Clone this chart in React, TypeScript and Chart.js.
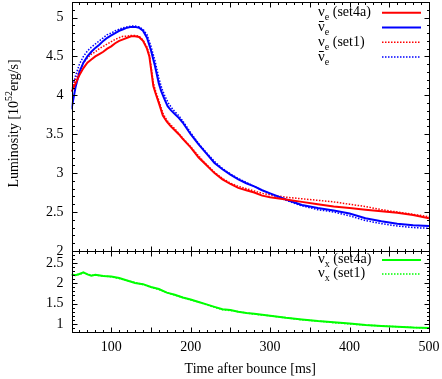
import React, { useEffect, useRef } from "react";
import { Chart, registerables } from "chart.js";

Chart.register(...registerables);

// ---------- data ----------
const xTickLabels = [100, 200, 300, 400, 500];
const topTicks = [2, 2.5, 3, 3.5, 4, 4.5, 5];
const bottomTicks = [1, 1.5, 2, 2.5];

const seriesNames = ["νe (set4a)", "ν\u0304e", "νe (set1)", "ν\u0304e", "νx (set4a)", "νx (set1)"];

const nueSet4aX = [50, 55, 60, 65, 70, 75, 80, 85, 90, 95, 100, 105, 110, 115, 120, 125, 130, 135, 140, 145, 148, 150, 153, 156, 160, 165, 170, 175, 180, 185, 190, 200, 210, 220, 230, 240, 250, 260, 270, 280, 290, 300, 320, 340, 360, 380, 400, 420, 440, 460, 480, 500];
const nueSet4aY = [4.05, 4.15, 4.26, 4.35, 4.42, 4.46, 4.5, 4.53, 4.56, 4.6, 4.63, 4.67, 4.7, 4.72, 4.74, 4.76, 4.76, 4.75, 4.7, 4.6, 4.5, 4.35, 4.12, 4.02, 3.9, 3.74, 3.66, 3.6, 3.55, 3.5, 3.44, 3.33, 3.2, 3.1, 3.0, 2.92, 2.86, 2.81, 2.78, 2.75, 2.71, 2.69, 2.66, 2.63, 2.6, 2.57, 2.55, 2.53, 2.51, 2.49, 2.46, 2.42];

const nuebSet4aX = [50, 55, 60, 65, 70, 75, 80, 85, 90, 95, 100, 105, 110, 115, 120, 125, 130, 135, 140, 145, 150, 155, 160, 163, 167, 171, 175, 180, 185, 190, 200, 210, 220, 230, 240, 250, 260, 270, 280, 290, 300, 320, 340, 360, 380, 400, 420, 440, 460, 480, 500];
const nuebSet4aY = [3.82, 4.1, 4.3, 4.42, 4.5, 4.56, 4.61, 4.65, 4.7, 4.74, 4.77, 4.8, 4.83, 4.85, 4.87, 4.88, 4.88, 4.87, 4.83, 4.74, 4.58, 4.38, 4.15, 4.05, 3.95, 3.86, 3.81, 3.76, 3.71, 3.65, 3.5, 3.37, 3.25, 3.13, 3.05, 2.98, 2.92, 2.87, 2.83, 2.78, 2.74, 2.66, 2.59, 2.55, 2.52, 2.48, 2.42, 2.38, 2.35, 2.33, 2.32];

const nueSet1X = [50, 55, 60, 65, 70, 75, 80, 85, 90, 95, 100, 105, 110, 115, 120, 125, 130, 135, 140, 145, 148, 150, 153, 156, 160, 165, 170, 175, 180, 185, 190, 200, 210, 220, 230, 240, 250, 260, 270, 280, 290, 300, 320, 340, 360, 380, 400, 420, 440, 460, 480, 500];
const nueSet1Y = [4.05, 4.2, 4.32, 4.42, 4.48, 4.53, 4.56, 4.6, 4.63, 4.66, 4.69, 4.72, 4.74, 4.76, 4.76, 4.77, 4.77, 4.76, 4.71, 4.62, 4.52, 4.38, 4.16, 4.05, 3.93, 3.77, 3.68, 3.62, 3.57, 3.51, 3.45, 3.34, 3.22, 3.11, 3.01, 2.93, 2.87, 2.83, 2.8, 2.77, 2.74, 2.72, 2.69, 2.67, 2.65, 2.63, 2.6, 2.57, 2.53, 2.5, 2.47, 2.44];

const nuebSet1X = [50, 55, 60, 65, 70, 75, 80, 85, 90, 95, 100, 105, 110, 115, 120, 125, 130, 135, 140, 145, 150, 155, 160, 164, 168, 172, 176, 180, 185, 190, 200, 210, 220, 230, 240, 250, 260, 270, 280, 290, 300, 320, 340, 360, 380, 400, 420, 440, 460, 480, 500];
const nuebSet1Y = [4.05, 4.25, 4.4, 4.5, 4.57, 4.62, 4.66, 4.7, 4.74, 4.78, 4.8, 4.83, 4.85, 4.87, 4.88, 4.89, 4.89, 4.88, 4.85, 4.78, 4.63, 4.45, 4.22, 4.08, 3.98, 3.9, 3.84, 3.79, 3.74, 3.67, 3.52, 3.38, 3.26, 3.15, 3.06, 2.99, 2.93, 2.88, 2.83, 2.78, 2.73, 2.65, 2.58, 2.53, 2.5, 2.45, 2.39, 2.35, 2.32, 2.3, 2.29];

const nuxSet4aX = [50, 55, 60, 65, 70, 75, 80, 90, 100, 110, 120, 130, 140, 150, 160, 170, 180, 190, 200, 210, 220, 230, 240, 250, 260, 270, 280, 300, 320, 340, 360, 380, 400, 420, 440, 460, 480, 500];
const nuxSet4aY = [2.22, 2.2, 2.23, 2.27, 2.22, 2.19, 2.21, 2.18, 2.17, 2.13, 2.07, 2.01, 1.98, 1.91, 1.86, 1.77, 1.72, 1.65, 1.6, 1.54, 1.48, 1.42, 1.36, 1.34, 1.3, 1.27, 1.25, 1.2, 1.15, 1.11, 1.07, 1.04, 1.01, 0.97, 0.95, 0.93, 0.91, 0.9];

const nuxSet1X = [50, 55, 60, 65, 70, 75, 80, 90, 100, 110, 120, 130, 140, 150, 160, 170, 180, 190, 200, 210, 220, 230, 240, 250, 260, 270, 280, 300, 320, 340, 360, 380, 400, 420, 440, 460, 480, 500];
const nuxSet1Y = [2.21, 2.21, 2.22, 2.26, 2.23, 2.2, 2.2, 2.18, 2.16, 2.12, 2.07, 2.02, 1.97, 1.9, 1.85, 1.77, 1.71, 1.65, 1.59, 1.54, 1.47, 1.41, 1.35, 1.33, 1.3, 1.27, 1.24, 1.2, 1.15, 1.1, 1.07, 1.03, 1.0, 0.97, 0.95, 0.93, 0.91, 0.9];

const RED = "#ff0000";
const BLUE = "#0000ff";
const GREEN = "#00ff00";
const FONT = "'Liberation Serif', 'Times New Roman', serif";

const pts = (xs: number[], ys: number[]) => xs.map((x, i) => ({ x, y: ys[i] }));

// ---------- plugins ----------
const framePlugin = {
  id: "frame",
  afterDatasetsDraw(chart: any) {
    const { ctx, scales } = chart;
    const xs = scales.x;
    ctx.save();
    ctx.strokeStyle = "#000";
    ctx.lineWidth = 1;
    const seg = (x1: number, y1: number, x2: number, y2: number) => {
      ctx.beginPath();
      ctx.moveTo(x1, y1);
      ctx.lineTo(x2, y2);
      ctx.stroke();
    };
    for (const ys of [scales.y, scales.y2]) {
      const L = Math.round(xs.left) + 0.5;
      const R = Math.round(xs.right) + 0.5;
      const T = Math.round(ys.top) + 0.5;
      const B = Math.round(ys.bottom) + 0.5;
      ctx.strokeRect(L, T, R - L, B - T);
      for (let v = 50; v <= 500; v += 10) {
        const px = Math.round(xs.getPixelForValue(v)) + 0.5;
        const len = v % 50 === 0 ? 5 : 2.5;
        seg(px, B, px, B - len);
        seg(px, T, px, T + len);
      }
      const k0 = Math.ceil(ys.min * 10 - 1e-6);
      const k1 = Math.floor(ys.max * 10 + 1e-6);
      for (let k = k0; k <= k1; k++) {
        const py = Math.round(ys.getPixelForValue(k / 10)) + 0.5;
        const len = k % 5 === 0 ? 5 : 2.5;
        seg(L, py, L + len, py);
        seg(R, py, R - len, py);
      }
    }
    ctx.restore();
  },
};

const legendPlugin = {
  id: "customLegend",
  afterDraw(chart: any) {
    const { ctx, scales } = chart;
    const right = scales.x.right;
    const rows = [
      { idx: 0, y: scales.y.top + 10.8 },
      { idx: 1, y: scales.y.top + 25.5 },
      { idx: 2, y: scales.y.top + 40.2 },
      { idx: 3, y: scales.y.top + 55 },
      { idx: 4, y: scales.y2.top + 9 },
      { idx: 5, y: scales.y2.top + 23 },
    ];
    ctx.save();
    for (const r of rows) {
      const ds = chart.data.datasets[r.idx];
      const m = String(ds.label).match(/^ν(\u0304?)([a-z])(.*)$/);
      let tx = right - 111;
      const base = r.y + 3.5;
      ctx.fillStyle = "#000";
      ctx.strokeStyle = "#000";
      ctx.textBaseline = "alphabetic";
      ctx.textAlign = "left";
      if (m) {
        ctx.font = `15px ${FONT}`;
        ctx.fillText("ν", tx, base);
        const wn = ctx.measureText("ν").width;
        if (m[1]) {
          ctx.lineWidth = 1;
          ctx.beginPath();
          ctx.moveTo(tx + 1, Math.round(base - 10) + 0.5);
          ctx.lineTo(tx + wn - 1, Math.round(base - 10) + 0.5);
          ctx.stroke();
        }
        tx += wn;
        ctx.font = `10px ${FONT}`;
        ctx.fillText(m[2], tx, base + 4);
        tx += ctx.measureText(m[2]).width;
        ctx.font = `14px ${FONT}`;
        ctx.fillText(m[3], tx, base);
      }
      ctx.strokeStyle = ds.borderColor;
      ctx.lineWidth = ds.borderWidth;
      ctx.setLineDash(ds.borderDash || []);
      ctx.beginPath();
      ctx.moveTo(right - 47, r.y);
      ctx.lineTo(right - 8, r.y);
      ctx.stroke();
      ctx.setLineDash([]);
    }
    ctx.restore();
  },
};

const yTitlePlugin = {
  id: "yTitle",
  afterDraw(chart: any) {
    const { ctx, scales } = chart;
    const cy = (scales.y.top + scales.y.bottom) / 2 - 3;
    const p1 = "Luminosity [10";
    const p2 = "52";
    const p3 = "erg/s]";
    ctx.save();
    ctx.font = `14px ${FONT}`;
    const w1 = ctx.measureText(p1).width;
    const w3 = ctx.measureText(p3).width;
    ctx.font = `10px ${FONT}`;
    const w2 = ctx.measureText(p2).width;
    const total = w1 + w2 + w3;
    ctx.translate(18, cy);
    ctx.rotate(-Math.PI / 2);
    ctx.fillStyle = "#000";
    ctx.textBaseline = "alphabetic";
    ctx.textAlign = "left";
    let x = -total / 2;
    ctx.font = `14px ${FONT}`;
    ctx.fillText(p1, x, 0);
    x += w1;
    ctx.font = `10px ${FONT}`;
    ctx.fillText(p2, x, -6);
    x += w2;
    ctx.font = `14px ${FONT}`;
    ctx.fillText(p3, x, 0);
    ctx.restore();
  },
};

export default function App() {
  const ref = useRef<HTMLCanvasElement | null>(null);

  useEffect(() => {
    if (!ref.current) return;
    const tickFont = { family: FONT, size: 14 };
    const yFit = (s: any) => {
      s.width = 71.5;
      s.paddingTop = 0;
      s.paddingBottom = 0;
    };
    const chart = new Chart(ref.current, {
      type: "line",
      data: {
        datasets: [
          { label: seriesNames[0], data: pts(nueSet4aX, nueSet4aY), borderColor: RED, borderWidth: 2, yAxisID: "y" },
          { label: seriesNames[1], data: pts(nuebSet4aX, nuebSet4aY), borderColor: BLUE, borderWidth: 2, yAxisID: "y" },
          { label: seriesNames[2], data: pts(nueSet1X, nueSet1Y), borderColor: RED, borderWidth: 1.5, borderDash: [1.5, 1.5], yAxisID: "y" },
          { label: seriesNames[3], data: pts(nuebSet1X, nuebSet1Y), borderColor: BLUE, borderWidth: 1.5, borderDash: [1.5, 1.5], yAxisID: "y" },
          { label: seriesNames[4], data: pts(nuxSet4aX, nuxSet4aY), borderColor: GREEN, borderWidth: 2, yAxisID: "y2" },
          { label: seriesNames[5], data: pts(nuxSet1X, nuxSet1Y), borderColor: GREEN, borderWidth: 1.5, borderDash: [1.5, 1.5], yAxisID: "y2" },
        ] as any,
      },
      options: {
        animation: false,
        responsive: false,
        devicePixelRatio: 1,
        parsing: false as any,
        elements: { point: { radius: 0 }, line: { tension: 0, fill: false } },
        layout: { padding: { top: 2, right: 13, left: 0, bottom: 0 } },
        plugins: { legend: { display: false }, tooltip: { enabled: false } },
        scales: {
          x: {
            type: "linear",
            min: 50,
            max: 500,
            grid: { display: false, drawTicks: false },
            border: { display: false },
            ticks: { font: tickFont, color: "#000", padding: 7, maxRotation: 0, autoSkip: false, callback: (v: any) => String(v) },
            afterBuildTicks: (s: any) => {
              s.ticks = xTickLabels.map((v) => ({ value: v }));
            },
            afterFit: (s: any) => {
              s.height = 47;
              s.paddingLeft = 0;
              s.paddingRight = 0;
            },
            title: { display: true, text: "Time after bounce [ms]", font: tickFont, color: "#000", padding: { top: 0, bottom: 1 } },
          },
          // bottom panel (listed first: stacked axes are placed bottom-up)
          y2: {
            type: "linear",
            position: "left",
            stack: "lum",
            stackWeight: 81,
            min: 0.8,
            max: 2.8,
            grid: { display: false, drawTicks: false },
            border: { display: false },
            ticks: { font: tickFont, color: "#000", padding: 8, autoSkip: false, callback: (v: any) => String(v) },
            afterBuildTicks: (s: any) => {
              s.ticks = bottomTicks.map((v) => ({ value: v }));
            },
            afterFit: yFit,
          },
          // top panel
          y: {
            type: "linear",
            position: "left",
            stack: "lum",
            stackWeight: 248.5,
            min: 2,
            max: 5.2,
            grid: { display: false, drawTicks: false },
            border: { display: false },
            ticks: { font: tickFont, color: "#000", padding: 8, autoSkip: false, callback: (v: any) => String(v) },
            afterBuildTicks: (s: any) => {
              s.ticks = topTicks.map((v) => ({ value: v }));
            },
            afterFit: yFit,
          },
        } as any,
      },
      plugins: [framePlugin, legendPlugin, yTitlePlugin],
    });
    return () => chart.destroy();
  }, []);

  return (
    <div style={{ position: "fixed", left: 0, top: 0, width: 442, height: 379, background: "#fff" }}>
      <canvas ref={ref} width={442} height={379} style={{ display: "block" }} />
    </div>
  );
}
